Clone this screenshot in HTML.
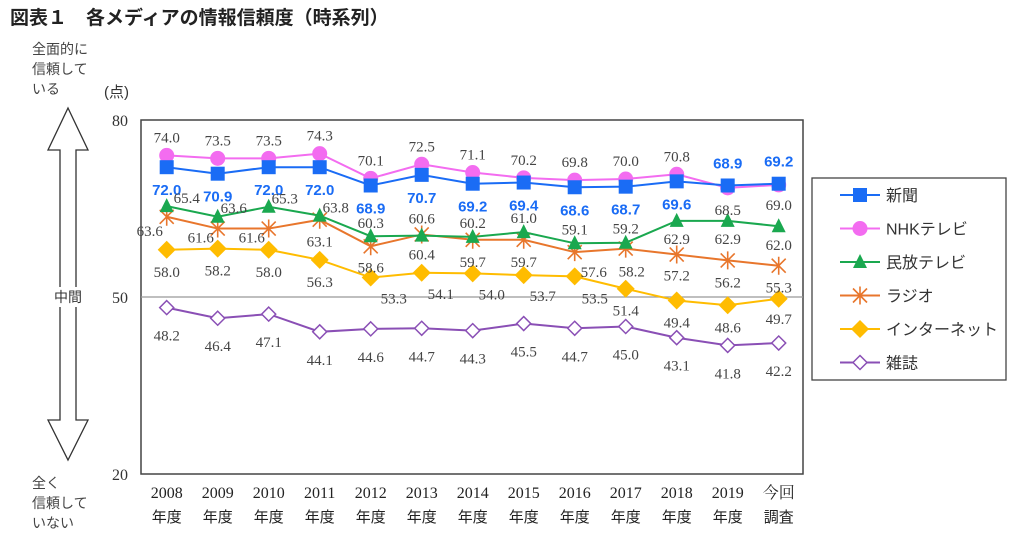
<!DOCTYPE html>
<html><head><meta charset="utf-8"><style>
body{margin:0;background:#fff;}
svg{display:block;font-family:"Liberation Serif","Noto Serif CJK SC","Noto Sans CJK JP",serif;}
.jp{font-family:"Liberation Sans","Noto Sans CJK JP",sans-serif;}
</style></head><body>
<svg width="1016" height="542" viewBox="0 0 1016 542">
<text x="10" y="24" class="jp" font-size="19" font-weight="bold" fill="#222">図表１　各メディアの情報信頼度（時系列）</text>
<g class="jp" font-size="14" fill="#444">
<text x="32" y="54">全面的に</text><text x="32" y="74">信頼して</text><text x="32" y="94">いる</text>
<text x="32" y="488">全く</text><text x="32" y="508">信頼して</text><text x="32" y="528">いない</text>
</g>
<text x="104" y="97" font-size="15" fill="#333" class="jp">(点)</text>
<path d="M68,108 L88,150 L76,150 L76,420 L88,420 L68,460 L48,420 L60,420 L60,150 L48,150 Z" fill="#fff" stroke="#333" stroke-width="1.3"/>
<rect x="50" y="287" width="36" height="20" fill="#fff"/>
<text x="68" y="302" font-size="14" class="jp" text-anchor="middle" fill="#333">中間</text>
<g id="plot"></g>
<g id="legend"></g>
</svg>
<script>
const categories=["2008","2009","2010","2011","2012","2013","2014","2015","2016","2017","2018","2019","今回"];
const catLine2=["年度","年度","年度","年度","年度","年度","年度","年度","年度","年度","年度","年度","調査"];
const yTicks=[20,50,80];
const newspaper=[72.0,70.9,72.0,72.0,68.9,70.7,69.2,69.4,68.6,68.7,69.6,68.9,69.2];
const nhk=[74.0,73.5,73.5,74.3,70.1,72.5,71.1,70.2,69.8,70.0,70.8,68.5,69.0];
const commercial=[65.4,63.6,65.3,63.8,60.3,60.4,60.2,61.0,59.1,59.2,62.9,62.9,62.0];
const radio=[63.6,61.6,61.6,63.1,58.6,60.6,59.7,59.7,57.6,58.2,57.2,56.2,55.3];
const internet=[58.0,58.2,58.0,56.3,53.3,54.1,54.0,53.7,53.5,51.4,49.4,48.6,49.7];
const magazine=[48.2,46.4,47.1,44.1,44.6,44.7,44.3,45.5,44.7,45.0,43.1,41.8,42.2];

const NS="http://www.w3.org/2000/svg";
const L=141,R=803,T=120,B=474;
const x=i=>166.7+i*51;
const y=v=>B-(v-20)*(B-T)/60;
const plot=document.getElementById('plot');
function mk(tag,at,parent){const e=document.createElementNS(NS,tag);for(const k in at)e.setAttribute(k,at[k]);(parent||plot).appendChild(e);return e;}

const fr=mk('rect',{x:L,y:T,width:R-L,height:B-T,fill:'none',stroke:'#444','stroke-width':1.5});


const g50=mk('line',{x1:L,x2:R,y1:y(50),y2:y(50),stroke:'#999','stroke-width':1.3});


yTicks.forEach(t=>{const e=mk('text',{x:128,y:y(t)+6,'text-anchor':'end','font-size':16,fill:'#333'});e.textContent=t;

});
categories.forEach((c,i)=>{const e=mk('text',{x:x(i),y:498,'text-anchor':'middle','font-size':16,fill:'#222'});e.textContent=c;


const f=mk('text',{x:x(i),y:522,'text-anchor':'middle','font-size':15,fill:'#222',class:'jp'});f.textContent=catLine2[i];

});

const offNews=[[0,23],[0,23],[0,23],[0,23],[0,23],[0,23],[0,23],[0,23],[0,23],[0,23],[0,23],[0,-22],[0,-22]];
const offNhk=[[0,-18],[0,-18],[0,-18],[0,-18],[0,-18],[0,-18],[0,-18],[0,-18],[0,-18],[0,-18],[0,-18],[0,22],[0,20]];
const offCom=[[20,-8],[16,-9],[16,-8],[16,-8],[0,-13],[0,19],[0,-14],[0,-14],[0,-14],[0,-14],[0,18],[0,18],[0,19]];
const offRad=[[-17,14],[-17,9],[-17,9],[0,22],[0,21],[0,-16],[0,22],[0,22],[19,20],[6,23],[0,21],[0,22],[0,22]];
const offInt=[[0,22],[0,22],[0,22],[0,22],[23,21],[19,21],[19,21],[19,21],[20,22],[0,22],[0,22],[0,22],[0,20]];
const offMag=[[0,28],[0,28],[0,28],[0,28],[0,28],[0,28],[0,28],[0,28],[0,28],[0,28],[0,28],[0,28],[0,28]];

const series=[
 {name:'新聞',data:newspaper,color:'#1a6cf5',marker:'square',off:offNews,bold:true,key:'newspaper'},
 {name:'NHKテレビ',data:nhk,color:'#f36cf0',marker:'circle',off:offNhk,key:'nhk'},
 {name:'民放テレビ',data:commercial,color:'#1aa84f',marker:'triangle',off:offCom,key:'commercial-tv'},
 {name:'ラジオ',data:radio,color:'#e8762c',marker:'star',off:offRad,key:'radio'},
 {name:'インターネット',data:internet,color:'#ffbc00',marker:'diamond',off:offInt,key:'internet'},
 {name:'雑誌',data:magazine,color:'#8a4fb5',marker:'hdiamond',off:offMag,key:'magazine'}
];
function marker(g,type,cx,cy,c){
 if(type==='square')mk('rect',{x:cx-7,y:cy-7,width:14,height:14,fill:c},g);
 else if(type==='circle')mk('circle',{cx,cy,r:7.5,fill:c},g);
 else if(type==='triangle')mk('path',{d:`M${cx},${cy-8}L${cx+7},${cy+6}L${cx-7},${cy+6}Z`,fill:c},g);
 else if(type==='star'){mk('path',{d:`M${cx-7},${cy-7}L${cx+7},${cy+7}M${cx+7},${cy-7}L${cx-7},${cy+7}M${cx},${cy-9}L${cx},${cy+9}`,stroke:c,'stroke-width':1.6},g);}
 else if(type==='diamond')mk('path',{d:`M${cx},${cy-9}L${cx+9},${cy}L${cx},${cy+9}L${cx-9},${cy}Z`,fill:c},g);
 else mk('path',{d:`M${cx},${cy-7}L${cx+7},${cy}L${cx},${cy+7}L${cx-7},${cy}Z`,fill:'#fff',stroke:c,'stroke-width':1.5},g);
}
series.slice().reverse().forEach(s=>{
 const g=mk('g',{});
 
 
 const pl=mk('polyline',{points:s.data.map((v,i)=>x(i)+','+y(v)).join(' '),fill:'none',stroke:s.color,'stroke-width':2},g);
 
 
 s.data.forEach((v,i)=>{const m=mk('g',{},g);
  
  
  marker(m,s.marker,x(i),y(v),s.color);});
});
series.forEach(s=>{
 s.data.forEach((v,i)=>{
  const o=s.off[i];
  const at={x:x(i)+o[0],y:y(v)+o[1]+5,'text-anchor':'middle','font-size':15,fill:'#444'};
  if(s.bold){at.fill='#1a6cf5';at['font-weight']='bold';at['font-family']='"Liberation Sans",sans-serif';at['font-size']=15;}
  const t=mk('text',at);t.textContent=v.toFixed(1);
  
  
 });
});
const lg=document.getElementById('legend');
mk('rect',{x:812,y:178,width:194,height:202,fill:'#fff',stroke:'#444','stroke-width':1.3},lg);
series.forEach((s,i)=>{
 const cy=195+i*33.5;
 const e=mk('g',{},lg);
 
 
 mk('line',{x1:840,x2:880,y1:cy,y2:cy,stroke:s.color,'stroke-width':2},e);
 marker(e,s.marker,860,cy,s.color);
 const t=mk('text',{x:886,y:cy+6,'font-size':16,fill:'#333',class:'jp'},e);t.textContent=s.name;
});
</script>
</body></html>
